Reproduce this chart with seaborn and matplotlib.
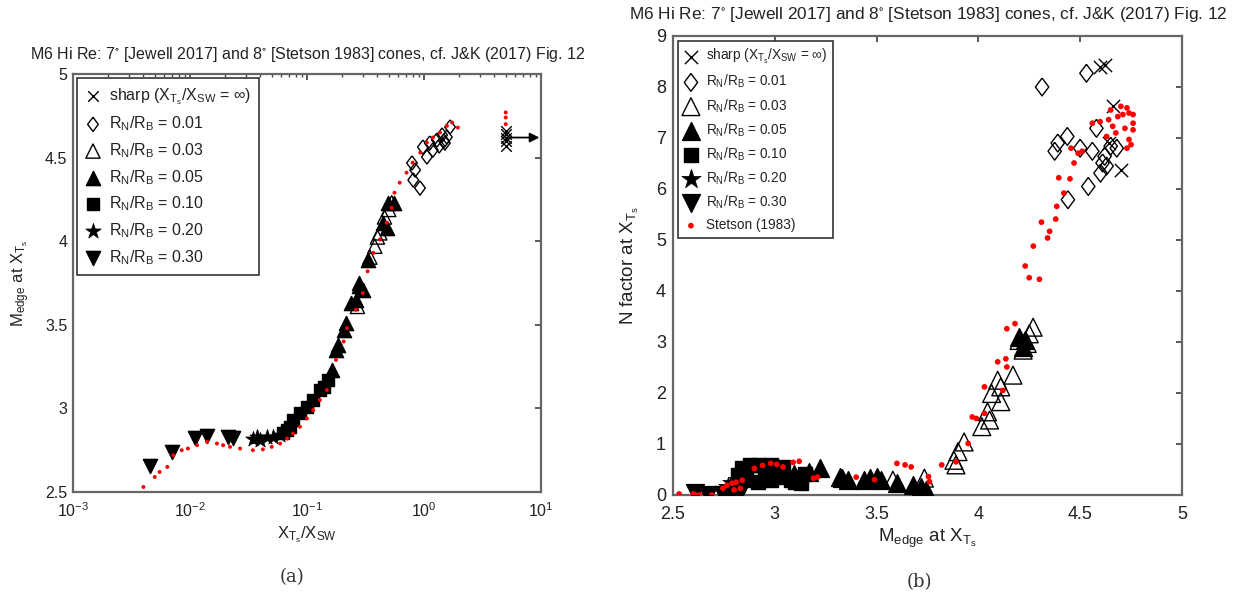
import matplotlib
matplotlib.use("Agg")
import matplotlib.pyplot as plt
import seaborn as sns
import numpy as np

# ---------------- data: panel (a) X_Ts/X_SW vs M_edge ----------------
a_sharp_x = [5.0, 5.0, 5.0, 5.0, 5.0]
a_sharp_y = [4.57, 4.60, 4.62, 4.64, 4.66]

a_d01_x = [0.925, 0.81, 0.84, 0.79, 1.06, 1.12, 1.29, 1.43, 1.57, 1.67, 1.51, 1.19, 0.98, 1.35, 1.48]
a_d01_y = [4.318, 4.366, 4.426, 4.468, 4.504, 4.587, 4.605, 4.635, 4.623, 4.683, 4.587, 4.545, 4.563, 4.57, 4.60]

a_t03_x = [0.345, 0.42, 0.46, 0.53, 0.40, 0.27, 0.38, 0.50]
a_t03_y = [3.905, 4.05, 4.145, 4.23, 4.025, 3.61, 3.97, 4.19]

a_t05_x = [0.49, 0.56, 0.45, 0.48, 0.33, 0.28, 0.30, 0.24, 0.165, 0.177, 0.184, 0.206, 0.215, 0.262, 0.28]
a_t05_y = [4.23, 4.23, 4.11, 4.08, 3.89, 3.75, 3.71, 3.63, 3.23, 3.35, 3.38, 3.47, 3.51, 3.65, 3.73]

a_s10_x = [0.0675, 0.076, 0.087, 0.100, 0.113, 0.129, 0.062, 0.071, 0.14, 0.15]
a_s10_y = [2.871, 2.93, 2.97, 3.01, 3.05, 3.11, 2.85, 2.89, 3.13, 3.17]

a_st20_x = [0.0345, 0.0396, 0.0454, 0.0513, 0.0588, 0.0373]
a_st20_y = [2.817, 2.811, 2.829, 2.829, 2.841, 2.829]

a_v30_x = [0.00455, 0.0070, 0.0110, 0.0140, 0.0211, 0.0233]
a_v30_y = [2.655, 2.739, 2.823, 2.835, 2.829, 2.823]

a_stet_x = [0.0040, 0.0050, 0.0055, 0.0064, 0.0072, 0.0085, 0.0096, 0.0115, 0.0140, 0.0170,
            0.0192, 0.0220, 0.0268, 0.0345, 0.042, 0.050, 0.059, 0.0675, 0.076, 0.087,
            0.100, 0.113, 0.129, 0.148, 0.177, 0.206, 0.22, 0.262, 0.30, 0.33,
            0.37, 0.42, 0.48, 0.53, 0.56, 0.62, 0.71, 0.80, 0.93, 1.06,
            1.19, 1.37, 1.57, 1.74, 1.95, 5.0, 5.0, 5.0]
a_stet_y = [2.53, 2.59, 2.62, 2.65, 2.72, 2.75, 2.76, 2.78, 2.80, 2.79,
            2.78, 2.77, 2.76, 2.75, 2.755, 2.77, 2.79, 2.82, 2.85, 2.89,
            2.94, 2.99, 3.05, 3.11, 3.29, 3.40, 3.48, 3.59, 3.69, 3.82,
            3.93, 4.01, 4.11, 4.20, 4.29, 4.35, 4.41, 4.47, 4.53, 4.59,
            4.62, 4.65, 4.69, 4.71, 4.68, 4.70, 4.74, 4.77]

# ---------------- data: panel (b) M_edge vs N factor ----------------
b_sharp_x = [4.60, 4.62, 4.66, 4.70, 4.64]
b_sharp_y = [8.40, 8.44, 7.62, 6.38, 6.90]

b_d01_x = [4.313, 4.531, 4.375, 4.39, 4.437, 4.50, 4.56, 4.58, 4.54, 4.44, 4.62, 4.65, 4.68, 4.63, 4.60, 4.61]
b_d01_y = [8.0, 8.27, 6.74, 6.90, 7.03, 6.80, 6.74, 7.19, 6.05, 5.79, 6.64, 6.84, 6.80, 6.45, 6.31, 6.51]

b_t03_x = [4.269, 4.25, 4.22, 4.20, 4.24, 4.17, 4.11, 4.095, 4.11, 4.065, 4.045, 4.055, 4.017,
           3.93, 3.90, 3.88, 3.89, 3.735, 3.58]
b_t03_y = [3.29, 3.16, 2.84, 3.03, 2.97, 2.35, 2.12, 2.25, 1.83, 1.99, 1.63, 1.47, 1.34,
           1.04, 0.85, 0.68, 0.59, 0.33, 0.29]

b_t05_x = [4.20, 4.23, 4.22, 3.22, 3.17, 3.095, 3.32, 3.36, 3.44, 3.50, 3.52, 3.60, 3.68, 3.745, 3.72, 3.33, 3.47]
b_t05_y = [3.10, 3.03, 2.90, 0.52, 0.46, 0.42, 0.36, 0.29, 0.29, 0.36, 0.29, 0.23, 0.20, 0.10, 0.16, 0.33, 0.33]

b_s10_x = [2.84, 2.88, 2.92, 2.98, 2.86, 2.92, 2.98, 3.04, 3.08, 3.13, 2.82, 3.04, 3.10, 3.15, 2.95, 3.01]
b_s10_y = [0.52, 0.59, 0.59, 0.59, 0.29, 0.26, 0.29, 0.36, 0.29, 0.23, 0.39, 0.55, 0.26, 0.42, 0.45, 0.48]

b_st20_x = [2.77, 2.79, 2.82, 2.84, 2.80, 2.785, 2.85]
b_st20_y = [0.16, 0.23, 0.29, 0.33, 0.10, 0.03, 0.33]

b_v30_x = [2.61, 2.67, 2.75, 2.82, 2.84, 2.745]
b_v30_y = [0.03, 0.0, 0.0, 0.03, 0.13, 0.0]

b_stet_x = [2.53, 2.60, 2.61, 2.63, 2.69, 2.745, 2.765, 2.79, 2.81, 2.84, 2.83, 2.80, 2.90, 2.94,
            2.98, 3.01, 3.04, 3.09, 3.12, 3.19, 3.21, 3.40, 3.49, 3.60, 3.64, 3.67, 3.755, 3.76,
            3.82, 3.89, 3.95, 3.97, 3.99, 4.03, 4.095, 4.135, 4.14, 4.12, 4.03, 4.14, 4.18,
            4.23, 4.25, 4.30, 4.27, 4.31, 4.34, 4.35, 4.38, 4.385, 4.42, 4.395, 4.45, 4.47,
            4.455, 4.49, 4.51, 4.56, 4.598, 4.65, 4.70, 4.73, 4.71, 4.74, 4.76, 4.72, 4.66,
            4.64, 4.685, 4.76, 4.74, 4.75, 4.73, 4.675, 4.63, 4.76]
b_stet_y = [0.02, 0.02, 0.0, 0.0, 0.0, 0.13, 0.19, 0.23, 0.25, 0.29, 0.13, 0.10, 0.52, 0.58,
            0.62, 0.60, 0.55, 0.64, 0.66, 0.33, 0.35, 0.35, 0.30, 0.62, 0.59, 0.55, 0.36, 0.26,
            0.59, 0.65, 1.01, 1.53, 1.50, 2.12, 2.61, 2.67, 2.51, 2.05, 1.60, 3.26, 3.36,
            4.49, 4.26, 4.23, 4.88, 5.35, 5.04, 5.17, 5.41, 5.66, 5.92, 6.22, 6.20, 6.51,
            6.80, 6.70, 6.74, 7.29, 7.32, 7.55, 7.62, 7.59, 7.46, 7.49, 7.29, 7.19, 7.23,
            7.36, 7.42, 7.46, 6.97, 6.87, 6.80, 7.10, 7.03, 7.16]

# ---------------- labels ----------------
title_text = r"M6 Hi Re: 7$^{\circ}$ [Jewell 2017] and 8$^{\circ}$ [Stetson 1983] cones, cf. J&K (2017) Fig. 12"
series_labels = [r"sharp (X$_{T_s}$/X$_{SW}$ = $\infty$)", "R$_N$/R$_B$ = 0.01", "R$_N$/R$_B$ = 0.03",
                 "R$_N$/R$_B$ = 0.05", "R$_N$/R$_B$ = 0.10", "R$_N$/R$_B$ = 0.20", "R$_N$/R$_B$ = 0.30",
                 "Stetson (1983)"]
a_yticks = [2.5, 3.0, 3.5, 4.0, 4.5, 5.0]
a_yticklabels = ["2.5", "3", "3.5", "4", "4.5", "5"]
b_xticks = [2.5, 3.0, 3.5, 4.0, 4.5, 5.0]
b_xticklabels = ["2.5", "3", "3.5", "4", "4.5", "5"]
b_yticks = [0, 1, 2, 3, 4, 5, 6, 7, 8, 9]

# ---------------- style ----------------
sns.set_theme(style="white")
plt.rcParams["font.family"] = ["Liberation Sans", "DejaVu Sans"]
plt.rcParams["mathtext.default"] = "regular"

fig = plt.figure(figsize=(12.41, 5.96), dpi=100)
ax1 = fig.add_axes([0.0588, 0.1745, 0.3771, 0.7013])
ax2 = fig.add_axes([0.5423, 0.1695, 0.4101, 0.7701])

diamond = [(0, 1), (0.75, 0), (0, -1), (-0.75, 0), (0, 1)]


def draw(ax, xs, ys, scale, red_size, with_stetson_label):
    specs = [
        (xs[0], ys[0], "x", "black", "black", 0.55, 1.0),
        (xs[1], ys[1], diamond, "none", "black", 1.0, 1.0),
        (xs[2], ys[2], "^", "none", "black", 1.0, 1.0),
        (xs[3], ys[3], "^", "black", "black", 1.0, 1.0),
        (xs[4], ys[4], "s", "black", "black", 0.7, 1.0),
        (xs[5], ys[5], "*", "black", "black", 1.3, 0.5),
        (xs[6], ys[6], "v", "black", "black", 1.0, 1.0),
    ]
    for i, (x, y, m, fc, ec, sz, lw) in enumerate(specs):
        sns.scatterplot(x=x, y=y, ax=ax, marker=m, color=fc, edgecolor=ec,
                        linewidth=lw, s=scale * sz, label=series_labels[i], legend=False, zorder=3)
    sns.scatterplot(x=xs[7], y=ys[7], ax=ax, marker="o", color="#ff0000", edgecolor="none",
                    s=red_size, linewidth=0, zorder=4,
                    label=series_labels[7] if with_stetson_label else "_nolegend_", legend=False)


# ---- panel (a)
draw(ax1, [a_sharp_x, a_d01_x, a_t03_x, a_t05_x, a_s10_x, a_st20_x, a_v30_x, a_stet_x],
     [a_sharp_y, a_d01_y, a_t03_y, a_t05_y, a_s10_y, a_st20_y, a_v30_y, a_stet_y], 105, 8, False)
ax1.annotate("", xy=(9.7, 4.62), xytext=(5.0, 4.62),
             arrowprops=dict(arrowstyle="-|>", color="black", lw=1.3, mutation_scale=14,
                             shrinkA=0, shrinkB=0))
ax1.set_xscale("log")
ax1.set_xlim(1e-3, 1e1)
ax1.set_ylim(2.5, 5.0)
ax1.set_yticks(a_yticks)
ax1.set_yticklabels(a_yticklabels)
ax1.tick_params(axis="both", which="both", direction="in", top=True, right=True,
                labelsize=11.5, colors="#444444", labelcolor="#222222")
ax1.tick_params(axis="x", which="both", pad=7)
ax1.tick_params(axis="y", which="both", pad=4)
ax1.tick_params(which="major", length=4)
ax1.tick_params(which="minor", length=2.5)
ax1.set_xlabel(r"X$_{T_s}$/X$_{SW}$", fontsize=12, color="#222222")
ax1.set_ylabel(r"M$_{edge}$ at X$_{T_s}$", fontsize=12, color="#222222")
ax1.xaxis.set_label_coords(0.5, -0.078)
ax1.yaxis.set_label_coords(-0.088, 0.5)
leg1 = ax1.legend(loc="upper left", bbox_to_anchor=(77 / 1241, 1 - 78 / 596),
                  bbox_transform=fig.transFigure, borderaxespad=0, fancybox=False,
                  framealpha=1, edgecolor="#333333", fontsize=11.5, labelspacing=0.5,
                  handlelength=1.0, handletextpad=0.5, borderpad=0.5)
leg1.get_frame().set_linewidth(1.2)
for t in leg1.get_texts():
    t.set_color("#222222")

# ---- panel (b)
draw(ax2, [b_sharp_x, b_d01_x, b_t03_x, b_t05_x, b_s10_x, b_st20_x, b_v30_x, b_stet_x],
     [b_sharp_y, b_d01_y, b_t03_y, b_t05_y, b_s10_y, b_st20_y, b_v30_y, b_stet_y], 165, 17, True)
ax2.set_xlim(2.5, 5.0)
ax2.set_ylim(0, 9)
ax2.set_xticks(b_xticks)
ax2.set_xticklabels(b_xticklabels)
ax2.set_yticks(b_yticks)
ax2.tick_params(axis="both", which="both", direction="in", top=True, right=True,
                labelsize=13, colors="#444444", labelcolor="#222222", length=4)
ax2.tick_params(axis="x", pad=8)
ax2.tick_params(axis="y", pad=5)
ax2.set_xlabel(r"M$_{edge}$ at X$_{T_s}$", fontsize=13.5, color="#222222")
ax2.set_ylabel(r"N factor at X$_{T_s}$", fontsize=13.5, color="#222222")
ax2.xaxis.set_label_coords(0.5, -0.07)
ax2.yaxis.set_label_coords(-0.062, 0.5)
leg2 = ax2.legend(loc="upper left", bbox_to_anchor=(678 / 1241, 1 - 41 / 596),
                  bbox_transform=fig.transFigure, borderaxespad=0, fancybox=False,
                  framealpha=1, edgecolor="#333333", fontsize=9.8, labelspacing=0.5,
                  handlelength=1.0, handletextpad=0.6, borderpad=0.45)
leg2.get_frame().set_linewidth(1.2)
for t in leg2.get_texts():
    t.set_color("#222222")

for ax in (ax1, ax2):
    for sp in ax.spines.values():
        sp.set_color("#666666")
        sp.set_linewidth(1.6)

# titles and captions
fig.text(308 / 1241, 1 - 55 / 596, title_text, ha="center", va="center", fontsize=11.5, color="#222222")
fig.text(928 / 1241, 1 - 15 / 596, title_text, ha="center", va="center", fontsize=12.4, color="#222222")
fig.text(292 / 1241, 1 - 577 / 596, "(a)", ha="center", va="center", fontsize=13,
         family=["DejaVu Serif"], color="#333333")
fig.text(919 / 1241, 1 - 582 / 596, "(b)", ha="center", va="center", fontsize=13,
         family=["DejaVu Serif"], color="#333333")

fig.savefig("out.png", dpi=100)
